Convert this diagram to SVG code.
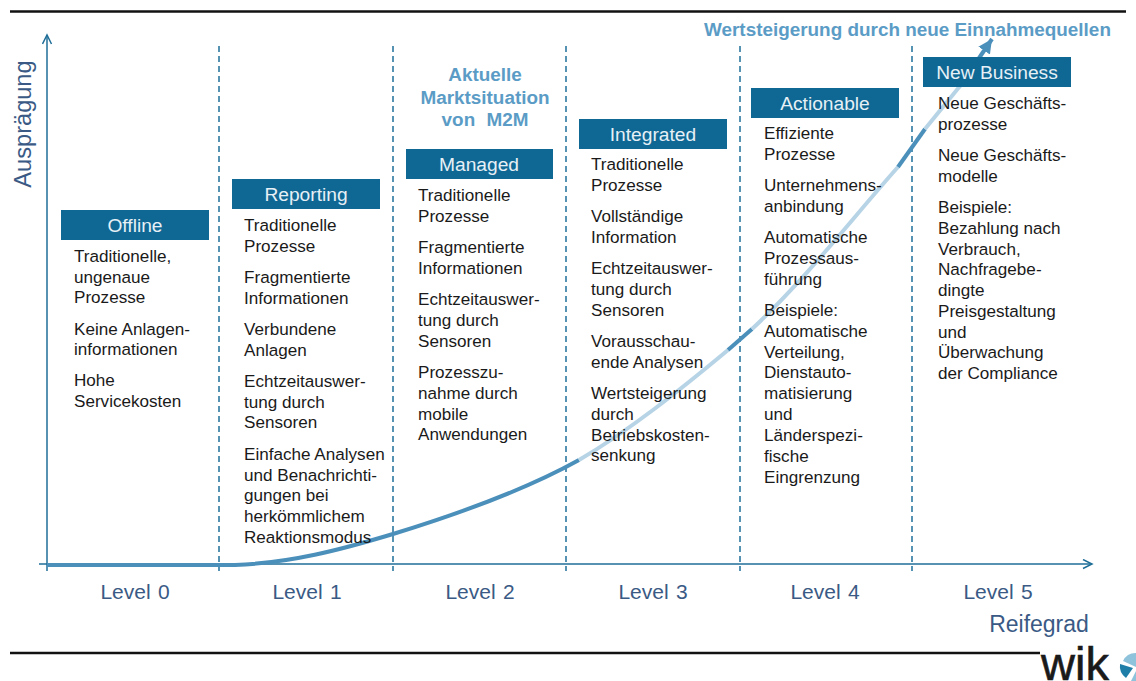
<svg xmlns="http://www.w3.org/2000/svg" width="1136" height="681" viewBox="0 0 1136 681">
<style>
text{font-family:"Liberation Sans",Arial,sans-serif}
.b{font-size:17.1px;fill:#1a1a1a}
.h{font-size:19.2px;fill:#e6f0f6;text-anchor:middle}
.r{fill:#0f6794}
.l{font-size:21px;fill:#3a5a85;text-anchor:middle;word-spacing:1.5px}
.t{font-size:18.9px;font-weight:bold;fill:#5b9cc6}
.d{stroke:#1f7099;stroke-width:1.5;stroke-dasharray:6 4;fill:none}
.ax{stroke:#1f6e98;stroke-width:1.5;fill:none}
.c{fill:none;stroke-width:4}
.dk{stroke:#4b8fbb}
.lt{stroke:#b7d4e6}
</style>
<defs>
<marker id="a1" markerWidth="12" markerHeight="12" refX="10" refY="5" orient="auto" markerUnits="userSpaceOnUse"><path d="M1,0.5 L10,5 L1,9.5" fill="none" stroke="#1f6e98" stroke-width="1.5"/></marker>
<marker id="a2" markerWidth="18" markerHeight="18" refX="14" refY="7" orient="auto" markerUnits="userSpaceOnUse"><path d="M0,0 L14,7 L0,14 Z" fill="#4b8fbb"/></marker>
</defs>
<g id="frame">
<line x1="10" y1="11.500" x2="1126" y2="11.500" stroke="#111" stroke-width="2.500"/>
<line x1="10" y1="653" x2="1040" y2="653" stroke="#111" stroke-width="2.500"/>
</g>
<g id="connectors">
<line class="ax" x1="47" y1="571" x2="47" y2="35" marker-end="url(#a1)"/>
<line class="ax" x1="39" y1="564" x2="1092" y2="564" marker-end="url(#a1)"/>
<line class="d" x1="219" y1="46" x2="219" y2="571"/>
<line class="d" x1="393" y1="46" x2="393" y2="571"/>
<line class="d" x1="566" y1="46" x2="566" y2="571"/>
<line class="d" x1="740" y1="46" x2="740" y2="571"/>
<line class="d" x1="912" y1="46" x2="912" y2="571"/>
<path class="c dk" d="M47,565 L235,565 C290,563 340,550 393,534 C455,515 525,490 579,460"/>
<path class="c lt" d="M579,460 C630,430 680,390 728,350"/>
<path class="c dk" d="M728,350 L752,329"/>
<path class="c lt" d="M752,329 C805,280 855,215 898,167"/>
<path class="c dk" d="M898,167 L925,129"/>
<path class="c lt" d="M925,129 L960,86"/>
<path class="c dk" d="M960,86 L992,39" marker-end="url(#a2)"/>
</g>
<g id="axis-labels">
<text transform="translate(31,124) rotate(-90)" font-size="23.600" fill="#3a5a85" text-anchor="middle">Ausprägung</text>
<text class="l" x="135" y="599">Level 0</text>
<text class="l" x="307" y="599">Level 1</text>
<text class="l" x="480" y="599">Level 2</text>
<text class="l" x="653" y="599">Level 3</text>
<text class="l" x="825" y="599">Level 4</text>
<text class="l" x="998" y="599">Level 5</text>
<text class="l" x="1039" y="632" style="font-size:23px">Reifegrad</text>
</g>
<g id="headline"><text class="t" x="704" y="36">Wertsteigerung durch neue Einnahmequellen</text></g>
<g id="market"><text class="t" text-anchor="middle"><tspan x="485" y="81">Aktuelle</tspan><tspan x="485" y="104">Marktsituation</tspan><tspan x="485" y="126" word-spacing="6">von M2M</tspan></text></g>
<g id="offline">
<rect class="r" x="61" y="210" width="148" height="30"/>
<text class="h" x="135" y="232">Offline</text>
<text class="b"><tspan x="74" y="262">Traditionelle,</tspan><tspan x="74" y="283">ungenaue</tspan><tspan x="74" y="303">Prozesse</tspan><tspan x="74" y="335">Keine Anlagen-</tspan><tspan x="74" y="355">informationen</tspan><tspan x="74" y="386">Hohe</tspan><tspan x="74" y="407">Servicekosten</tspan></text>
</g>
<g id="reporting">
<rect class="r" x="232" y="179" width="148" height="30"/>
<text class="h" x="306" y="201">Reporting</text>
<text class="b"><tspan x="244" y="231">Traditionelle</tspan><tspan x="244" y="252">Prozesse</tspan><tspan x="244" y="283">Fragmentierte</tspan><tspan x="244" y="304">Informationen</tspan><tspan x="244" y="335">Verbundene</tspan><tspan x="244" y="356">Anlagen</tspan><tspan x="244" y="387">Echtzeitauswer-</tspan><tspan x="244" y="408">tung durch</tspan><tspan x="244" y="428">Sensoren</tspan><tspan x="244" y="460">Einfache Analysen</tspan><tspan x="244" y="481">und Benachrichti-</tspan><tspan x="244" y="501">gungen bei</tspan><tspan x="244" y="522">herkömmlichem</tspan><tspan x="244" y="543">Reaktionsmodus</tspan></text>
</g>
<g id="managed">
<rect class="r" x="406" y="149" width="147" height="30"/>
<text class="h" x="479" y="171">Managed</text>
<text class="b"><tspan x="418" y="201">Traditionelle</tspan><tspan x="418" y="222">Prozesse</tspan><tspan x="418" y="253">Fragmentierte</tspan><tspan x="418" y="274">Informationen</tspan><tspan x="418" y="305">Echtzeitauswer-</tspan><tspan x="418" y="326">tung durch</tspan><tspan x="418" y="347">Sensoren</tspan><tspan x="418" y="378">Prozesszu-</tspan><tspan x="418" y="399">nahme durch</tspan><tspan x="418" y="420">mobile</tspan><tspan x="418" y="440">Anwendungen</tspan></text>
</g>
<g id="integrated">
<rect class="r" x="579" y="119" width="148" height="30"/>
<text class="h" x="653" y="141">Integrated</text>
<text class="b"><tspan x="591" y="170">Traditionelle</tspan><tspan x="591" y="191">Prozesse</tspan><tspan x="591" y="222">Vollständige</tspan><tspan x="591" y="243">Information</tspan><tspan x="591" y="274">Echtzeitauswer-</tspan><tspan x="591" y="295">tung durch</tspan><tspan x="591" y="316">Sensoren</tspan><tspan x="591" y="347">Vorausschau-</tspan><tspan x="591" y="368">ende Analysen</tspan><tspan x="591" y="399">Wertsteigerung</tspan><tspan x="591" y="420">durch</tspan><tspan x="591" y="441">Betriebskosten-</tspan><tspan x="591" y="461">senkung</tspan></text>
</g>
<g id="actionable">
<rect class="r" x="751" y="88" width="148" height="30"/>
<text class="h" x="825" y="110">Actionable</text>
<text class="b"><tspan x="764" y="139">Effiziente</tspan><tspan x="764" y="160">Prozesse</tspan><tspan x="764" y="191">Unternehmens-</tspan><tspan x="764" y="212">anbindung</tspan><tspan x="764" y="243">Automatische</tspan><tspan x="764" y="264">Prozessaus-</tspan><tspan x="764" y="285">führung</tspan><tspan x="764" y="316">Beispiele:</tspan><tspan x="764" y="337">Automatische</tspan><tspan x="764" y="358">Verteilung,</tspan><tspan x="764" y="378">Dienstauto-</tspan><tspan x="764" y="399">matisierung</tspan><tspan x="764" y="420">und</tspan><tspan x="764" y="441">Länderspezi-</tspan><tspan x="764" y="462">fische</tspan><tspan x="764" y="483">Eingrenzung</tspan></text>
</g>
<g id="new-business">
<rect class="r" x="923" y="57" width="148" height="30"/>
<text class="h" x="997" y="79">New Business</text>
<text class="b"><tspan x="938" y="109">Neue Geschäfts-</tspan><tspan x="938" y="130">prozesse</tspan><tspan x="938" y="161">Neue Geschäfts-</tspan><tspan x="938" y="182">modelle</tspan><tspan x="938" y="213">Beispiele:</tspan><tspan x="938" y="234">Bezahlung nach</tspan><tspan x="938" y="255">Verbrauch,</tspan><tspan x="938" y="275">Nachfragebe-</tspan><tspan x="938" y="296">dingte</tspan><tspan x="938" y="317">Preisgestaltung</tspan><tspan x="938" y="338">und</tspan><tspan x="938" y="358">Überwachung</tspan><tspan x="938" y="379">der Compliance</tspan></text>
</g>
<g id="logo">
<text x="1041" y="680" font-size="47" fill="#1a1a1a" stroke="#1a1a1a" stroke-width="0.600">wik</text>
<path d="M1136,653 A14,14 0 0 0 1123,661 L1136,667 Z" fill="#8fc3dc"/>
<path d="M1120,664 A15,15 0 0 0 1126,678 L1133,668 Z" fill="#1f7ea8"/>
<path d="M1136,671 L1131,681 L1136,681 Z" fill="#8fc3dc"/>
</g>
</svg>
